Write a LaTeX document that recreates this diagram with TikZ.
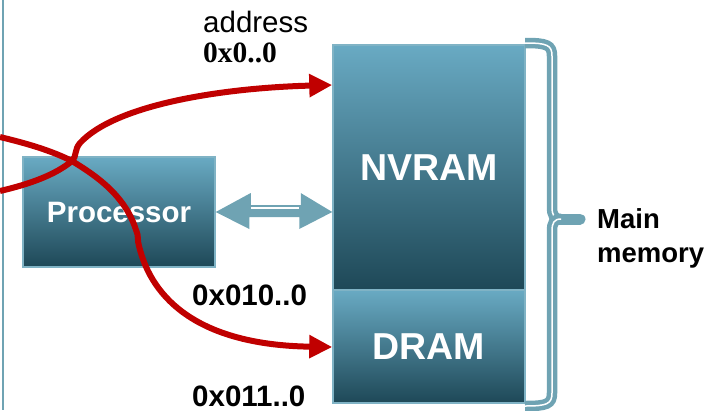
\documentclass[tikz,border=0pt]{standalone}
\usepackage{fontspec}
\setmainfont{Liberation Sans}
\newfontfamily\serifnum{Liberation Serif}
\usetikzlibrary{arrows.meta}
\definecolor{boxtop}{HTML}{69AAC3}
\definecolor{boxbot}{HTML}{1E4857}
\definecolor{boxedge}{HTML}{80B3C5}
\definecolor{steel}{HTML}{6FA3B3}
\definecolor{addrred}{HTML}{C00000}
\tikzset{
  unitbox/.style={draw=boxedge, line width=1.5pt, top color=boxtop, bottom color=boxbot,
    minimum width=192pt, inner sep=0pt, text=white, font=\fontsize{37.5}{40}\selectfont\bfseries},
  addrpath/.style={draw=addrred, line width=6pt, -{Triangle[length=23pt,width=22pt]}},
  lbl/.style={inner sep=0pt, anchor=base west, font=\fontsize{29.5}{30}\selectfont\bfseries}
}
\begin{document}
\begin{tikzpicture}[x=1pt, y=-1pt]
\useasboundingbox (0,0) rectangle (727,410);

% left margin rule
\draw[steel, line width=1.5pt] (3,0) -- (3,410);

% units
\node[unitbox, minimum height=110pt, font=\fontsize{29.5}{32}\selectfont\bfseries] (cpu) at (119,212) {Processor};
\node[unitbox, minimum height=245pt] (nvram) at (429,167.5) {NVRAM};
\node[unitbox, minimum height=113pt] (dram) at (429,346.5) {DRAM};

% processor <-> memory bus
\coordinate (busl) at (cpu.east);
\coordinate (busr) at (nvram.west |- cpu.east);
\fill[steel] (busl) -- ++(35,-19) -- ++(0,12) -- ++(50,0) -- ++(0,-12) -- (busr)
  -- ++(-33,17) -- ++(0,-12) -- ++(-50,0) -- ++(0,12) -- cycle;
\draw[white, line width=1.3pt] ([xshift=35pt,yshift=4pt]busl) -- ([xshift=-33pt,yshift=4pt]busr);

% brace around main memory
\coordinate (btop) at (525,43);
\coordinate (bbot) at (525,406);
\coordinate (btip) at (580,219);
\draw[steel, line width=11pt, line cap=round] (556,219) -- (btip);
\draw[steel, line width=4.5pt, double=white, double distance=1.5pt]
  (btop) .. controls (547,43) and (552,45) .. (552,56) -- (552,207)
  .. controls (552,215) and (554,219) .. (561,219);
\draw[steel, line width=4.5pt, double=white, double distance=1.5pt]
  (bbot) .. controls (547,406) and (552,404) .. (552,393) -- (552,231)
  .. controls (552,223) and (554,219) .. (561,219);

% address paths
\coordinate (srcA) at (0,191);
\coordinate (srcB) at (0,137);
\coordinate (hitA) at (nvram.west |- 0,85);
\coordinate (hitB) at (dram.west |- 0,347);
\draw[addrpath] (srcA) .. controls (30,184) and (55,175) .. (72,161)
  .. controls (77,156) and (74,150) .. (80,143)
  .. controls (115,105) and (220,88) .. (hitA);
\draw[addrpath] (srcB) .. controls (25,143) and (50,150) .. (72,161)
  .. controls (95,175) and (125,195) .. (136,230)
  .. controls (139,236) and (137,240) .. (139,246)
  .. controls (152,300) and (200,345) .. (hitB);

% labels
\node[inner sep=0pt, anchor=base west, font=\fontsize{29.5}{30}\selectfont] (addr) at (203,32) {address};
\node[inner sep=0pt, anchor=base west, font=\fontsize{29.5}{30}\selectfont\serifnum\bfseries] (a0) at (203,62) {0x0..0};
\node[lbl] (a1) at (192,305) {0x010..0};
\node[lbl] (a2) at (192,406) {0x011..0};
\node[lbl, font=\fontsize{27.5}{30}\selectfont\bfseries] (mm1) at (597,228) {Main};
\node[lbl, font=\fontsize{27.5}{30}\selectfont\bfseries] (mm2) at (597,262) {memory};
\end{tikzpicture}
\end{document}
